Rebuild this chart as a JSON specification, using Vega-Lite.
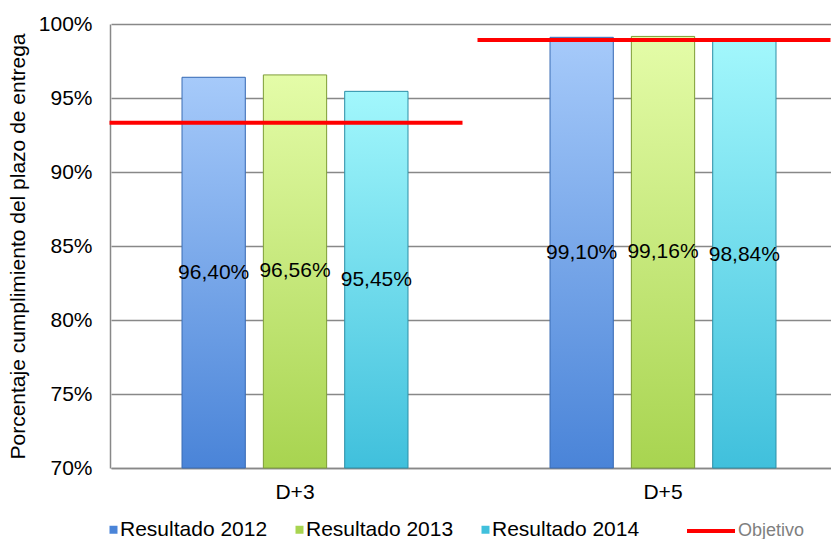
{
  "$schema": "https://vega.github.io/schema/vega-lite/v6.json",
  "width": 720,
  "height": 444,
  "autosize": {"type": "none"},
  "padding": {"left": 110, "top": 24, "right": 1, "bottom": 71},
  "background": "white",
  "datasets": {
    "res": [
      {"plazo": "D+3", "serie": "Resultado 2012", "valor": 0.9640},
      {"plazo": "D+3", "serie": "Resultado 2013", "valor": 0.9656},
      {"plazo": "D+3", "serie": "Resultado 2014", "valor": 0.9545},
      {"plazo": "D+5", "serie": "Resultado 2012", "valor": 0.9910},
      {"plazo": "D+5", "serie": "Resultado 2013", "valor": 0.9916},
      {"plazo": "D+5", "serie": "Resultado 2014", "valor": 0.9884}
    ],
    "obj": [
      {"plazo": "D+3", "objetivo": 0.9333},
      {"plazo": "D+5", "objetivo": 0.9892}
    ]
  },
  "config": {
    "locale": {"number": {"decimal": ",", "thousands": ".", "grouping": [3], "currency": ["", " €"]}},
    "font": "Liberation Sans",
    "view": {"stroke": null},
    "axis": {"labelFont": "Liberation Sans", "titleFont": "Liberation Sans"},
    "legend": {"labelFont": "Liberation Sans", "padding": 0}
  },
  "encoding": {
    "x": {
      "field": "plazo",
      "type": "nominal",
      "scale": {"domain": ["D+3", "D+5"], "range": [1, 737], "paddingInner": 0, "paddingOuter": 0},
      "axis": {
        "title": null,
        "labelAngle": 0,
        "ticks": false,
        "labelPadding": 13,
        "labelFontSize": 21,
        "labelColor": "black",
        "domainColor": "#888888",
        "domainWidth": 1.5
      }
    }
  },
  "layer": [
    {
      "data": {"name": "res"},
      "mark": {"type": "bar"},
      "encoding": {
        "xOffset": {"field": "serie", "type": "nominal", "scale": {"domain": ["Resultado 2012", "Resultado 2013", "Resultado 2014"], "range": [71, 297], "paddingInner": 0.222, "paddingOuter": 0}},
        "y": {
          "field": "valor",
          "type": "quantitative",
          "scale": {"domain": [0.7, 1], "zero": false, "nice": false},
          "axis": {
            "format": ".0%",
            "values": [0.7, 0.75, 0.8, 0.85, 0.9, 0.95, 1.0],
            "title": "Porcentaje cumplimiento del plazo de entrega",
            "titleFontSize": 21,
            "titleFontWeight": "normal",
            "titleColor": "black",
            "titlePadding": 10,
            "labelFontSize": 21,
            "labelColor": "black",
            "labelPadding": 18,
            "ticks": false,
            "grid": true,
            "gridColor": "#888888",
            "gridWidth": 1.5,
            "domainColor": "#888888",
            "domainWidth": 1.5
          }
        },
        "y2": {"datum": 0.7},
        "color": {
          "field": "serie",
          "type": "nominal",
          "scale": {"domain": ["Resultado 2012", "Resultado 2013", "Resultado 2014"], "range": ["#4A84D8", "#A8D450", "#40C0DC"]},
          "legend": {
            "orient": "none",
            "legendX": -7,
            "legendY": 495,
            "direction": "horizontal",
            "title": null,
            "symbolType": "square",
            "symbolSize": 64,
            "symbolStrokeWidth": 0,
            "labelFontSize": 21,
            "labelColor": "black",
            "labelOffset": -4,
            "columnPadding": 21
          }
        }
      }
    },
    {
      "data": {"name": "res"},
      "transform": [{"filter": "datum.serie == 'Resultado 2012'"}],
      "mark": {"type": "bar", "stroke": "#3B6CB4", "strokeWidth": 1,
        "color": {"gradient": "linear", "x1": 0, "y1": 0, "x2": 0, "y2": 1, "stops": [{"offset": 0, "color": "#A6CAFA"}, {"offset": 1, "color": "#4A84D8"}]}},
      "encoding": {
        "xOffset": {"field": "serie", "type": "nominal"},
        "y": {"field": "valor", "type": "quantitative"},
        "y2": {"datum": 0.7}
      }
    },
    {
      "data": {"name": "res"},
      "transform": [{"filter": "datum.serie == 'Resultado 2013'"}],
      "mark": {"type": "bar", "stroke": "#7F9E3A", "strokeWidth": 1,
        "color": {"gradient": "linear", "x1": 0, "y1": 0, "x2": 0, "y2": 1, "stops": [{"offset": 0, "color": "#E4FCA8"}, {"offset": 1, "color": "#A8D450"}]}},
      "encoding": {
        "xOffset": {"field": "serie", "type": "nominal"},
        "y": {"field": "valor", "type": "quantitative"},
        "y2": {"datum": 0.7}
      }
    },
    {
      "data": {"name": "res"},
      "transform": [{"filter": "datum.serie == 'Resultado 2014'"}],
      "mark": {"type": "bar", "stroke": "#2F8FA6", "strokeWidth": 1,
        "color": {"gradient": "linear", "x1": 0, "y1": 0, "x2": 0, "y2": 1, "stops": [{"offset": 0, "color": "#A2F7FC"}, {"offset": 1, "color": "#40C0DC"}]}},
      "encoding": {
        "xOffset": {"field": "serie", "type": "nominal"},
        "y": {"field": "valor", "type": "quantitative"},
        "y2": {"datum": 0.7}
      }
    },
    {
      "data": {"name": "obj"},
      "mark": {"type": "tick", "thickness": 4, "size": 353, "color": "#FF0000", "opacity": 1, "strokeWidth": 0, "xOffset": -9},
      "encoding": {
        "y": {"field": "objetivo", "type": "quantitative"},
        "stroke": {
          "datum": "Objetivo",
          "scale": {"domain": ["Objetivo"], "range": ["#FF0000"]},
          "legend": {
            "orient": "none",
            "legendX": 575,
            "legendY": 481,
            "title": null,
            "symbolType": "stroke",
            "symbolSize": 2304,
            "symbolStrokeWidth": 4,
            "symbolStrokeColor": "#FF0000",
            "symbolOpacity": 1,
            "labelFontSize": 18,
            "labelColor": "#7F7F7F",
            "labelOffset": 1
          }
        }
      }
    },
    {
      "data": {"name": "res"},
      "transform": [{"calculate": "(datum.valor + 0.7) / 2", "as": "mid"}],
      "mark": {"type": "text", "fontSize": 21, "color": "black", "baseline": "middle", "align": "center"},
      "encoding": {
        "xOffset": {"field": "serie", "type": "nominal"},
        "y": {"field": "mid", "type": "quantitative"},
        "text": {"field": "valor", "type": "quantitative", "format": ".2%"}
      }
    }
  ]
}
